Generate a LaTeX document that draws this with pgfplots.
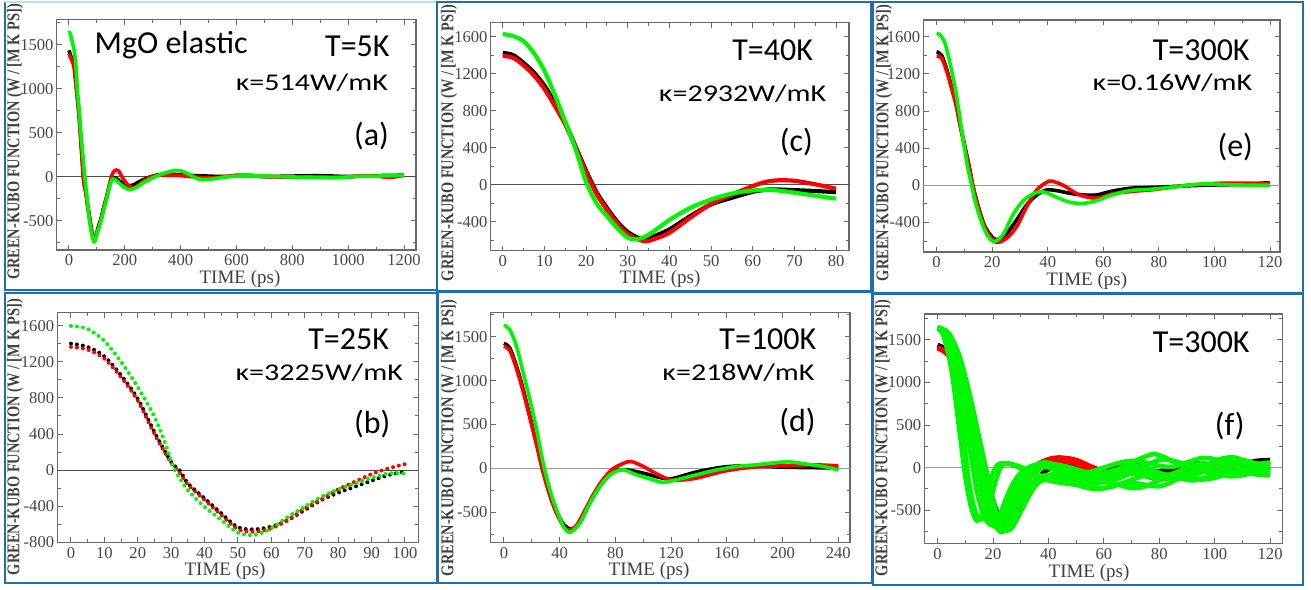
\documentclass[border=0pt]{standalone}
\usepackage{pgfplots}
\pgfplotsset{compat=1.18}
\usepackage{fontspec}
\setmainfont{Liberation Serif}
\newfontfamily\calib{Carlito}
\definecolor{gkgreen}{RGB}{0,245,0}
\definecolor{gkred}{RGB}{255,0,0}
\definecolor{framebl}{RGB}{32,110,178}
\definecolor{framelt}{RGB}{190,225,242}
\definecolor{axgray}{RGB}{105,105,105}
\pgfplotsset{
  gk/.style={
    scale only axis, anchor=south west,
    axis line style={axgray, line width=0.6pt},
    every tick/.style={axgray, line width=0.5pt},
    major tick length=2.6pt, minor tick length=1.6pt,
    tick align=inside,
    minor x tick num=1, minor y tick num=1,
    /pgf/number format/1000 sep={},
    /pgf/number format/assume math mode=true,
    tick label style={font=\fontsize{8.3}{9}\selectfont, text=black!72},
    yticklabel style={inner xsep=1.4pt},
    xticklabel style={inner ysep=2.2pt},
  },
  bk/.style={black, line width=1.8pt, smooth, tension=0.5, line join=round},
  rd/.style={gkred, line width=1.8pt, smooth, tension=0.5, line join=round},
  gn/.style={gkgreen, line width=1.8pt, smooth, tension=0.5, line join=round},
  dots/.style={line width=2pt, line cap=round, dash pattern=on 0pt off 3pt},
}
\newcommand{\ylab}{\scalebox{1}[1.25]{\bfseries\fontsize{7.2}{8}\selectfont GREEN-KUBO FUNCTION (W / [M K PS])}}
\newcommand{\xlab}{\fontsize{9.5}{11}\selectfont TIME (ps)}
\begin{document}
\begin{tikzpicture}
\path[use as bounding box] (0,0) rectangle (655.5pt,-294.5pt);

% ---------------- (a) T=5K ----------------
\begin{axis}[gk, at={(28.35pt,-125pt)}, width=179.65pt, height=115.35pt,
  xmin=-44, xmax=1243, ymin=-830, ymax=1792,
  xtick distance=200, ytick distance=500]
\draw[black!70, line width=0.5pt] (axis cs:-44,0) -- (axis cs:1243,0);
\addplot[bk] coordinates {(0,1440) (8,1360) (18,1280) (26,1040) (36,710) (42,450) (48,170) (53,-40) (60,-160) (66,-300) (72,-420) (77,-520) (83,-640) (90,-700) (96,-680) (104,-580) (116,-460) (124,-350) (134,-240) (142,-140) (150,-50) (158,-10) (166,-10) (175,-30) (190,-70) (210,-100) (230,-90) (260,-40) (290,0) (320,25) (360,30) (400,25) (450,15) (500,10) (550,5) (600,10) (650,10) (700,5) (800,10) (900,15) (1000,5) (1100,15) (1200,20)};
\addplot[rd] coordinates {(0,1400) (8,1340) (18,1250) (26,1010) (36,690) (42,430) (48,150) (53,-60) (60,-180) (66,-320) (72,-440) (77,-540) (83,-650) (88,-700) (94,-690) (104,-600) (116,-470) (124,-360) (134,-240) (142,-120) (150,-20) (158,50) (168,80) (178,70) (190,0) (205,-70) (220,-110) (235,-120) (250,-90) (275,-30) (300,10) (350,20) (400,15) (450,0) (500,-10) (550,0) (600,20) (650,20) (700,5) (750,0) (800,-5) (850,0) (900,5) (950,0) (1000,0) (1050,15) (1100,10) (1150,-5) (1200,20)};
\addplot[gn] coordinates {(0,1640) (3,1640) (11,1550) (18,1450) (23,1330) (27,1170) (30,980) (36,780) (41,570) (47,350) (53,130) (58,-40) (64,-220) (70,-400) (76,-550) (82,-660) (90,-740) (96,-700) (104,-610) (116,-490) (124,-380) (134,-265) (142,-150) (150,-60) (158,-20) (166,-30) (180,-70) (200,-120) (218,-145) (240,-120) (270,-60) (300,-10) (330,30) (360,60) (380,75) (400,70) (430,30) (460,-20) (480,-30) (520,-20) (560,0) (600,10) (700,10) (800,0) (900,-5) (950,-10) (1000,0) (1050,10) (1100,10) (1200,20)};
\end{axis}

% ---------------- (c) T=40K ----------------
\begin{axis}[gk, at={(245.35pt,-125.35pt)}, width=179.15pt, height=114pt,
  xmin=-2.9, xmax=83.1, ymin=-712, ymax=1750,
  xtick distance=10, ytick distance=400]
\draw[black!70, line width=0.5pt] (axis cs:-2.9,0) -- (axis cs:83.1,0);
\addplot[bk, line width=2.1pt] coordinates {(0,1423) (2.5,1400) (5,1315) (7.5,1210) (10,1070) (12.5,880) (15,668) (17.5,410) (20,150) (22.5,-80) (25,-250) (27.5,-400) (30,-510) (33,-580) (36,-560) (40,-482) (45,-338) (50,-212) (55,-140) (60,-76) (63,-55) (65,-50) (70,-58) (75,-68) (80,-79)};
\addplot[rd, line width=2.1pt] coordinates {(0,1394) (2.5,1370) (5,1290) (7.5,1180) (10,1035) (12.5,850) (15,650) (17.5,400) (20,130) (22.5,-100) (25,-270) (27.5,-420) (30,-535) (34,-610) (37,-575) (40,-518) (45,-356) (50,-205) (55,-105) (60,-14) (63,30) (66,48) (70,43) (75,5) (80,-43)};
\addplot[gn, line width=2.1pt] coordinates {(0,1628) (2.5,1605) (5,1550) (7.5,1420) (10,1230) (12.5,970) (15,680) (17.5,380) (20,30) (22.5,-200) (25,-338) (27.5,-470) (30,-571) (32,-590) (35,-540) (40,-380) (45,-250) (50,-160) (55,-95) (60,-62) (65,-58) (70,-85) (75,-118) (80,-150)};
\end{axis}

% ---------------- (e) T=300K ----------------
\begin{axis}[gk, at={(461.65pt,-126pt)}, width=178.35pt, height=116pt,
  xmin=-4.8, xmax=123.6, ymin=-718, ymax=1780,
  xtick distance=20, ytick distance=400]
\draw[black!40, line width=0.6pt] (axis cs:-4.8,0) -- (axis cs:123.6,0);
\addplot[bk] coordinates {(0,1438) (1.8,1400) (3.6,1250) (5.4,1060) (7,880) (8.4,665) (10.2,413) (12,162) (13,0) (15,-230) (17.4,-445) (20.4,-570) (22.2,-580) (25.2,-517) (28.8,-373) (32.4,-212) (36,-105) (39.6,-50) (43.2,-57) (48,-86) (52.8,-104) (57.6,-104) (62.4,-68) (69.6,-32) (80,-20) (95,0) (110,10) (118,25) (120,22)};
\addplot[rd] coordinates {(0,1392) (1.8,1370) (3.6,1230) (5.4,1040) (7,860) (8.4,650) (10.2,400) (12,150) (13,0) (15,-240) (17.4,-460) (20.4,-590) (22.2,-615) (25.2,-570) (28.8,-445) (32.4,-230) (36,-50) (39.6,32) (41.4,46) (45.6,0) (50.4,-90) (55.2,-133) (58.8,-133) (63.6,-90) (72,-61) (78,-47) (90,0) (102,22) (114,22) (120,15)};
\addplot[gn] coordinates {(0,1636) (1,1625) (2,1590) (3,1530) (4,1420) (5,1290) (6,1150) (7,990) (8,800) (9,600) (10,410) (11,220) (12.6,0) (13.8,-165) (15.6,-345) (17.4,-488) (19.2,-578) (21,-603) (24,-525) (27.6,-310) (31.2,-165) (34.8,-93) (38.4,-70) (43.2,-129) (48,-183) (52.8,-194) (57.6,-165) (62.4,-111) (69.6,-57) (78,-40) (84,-22) (96,14) (108,4) (120,0)};
\end{axis}

% ---------------- (b) T=25K ----------------
\begin{axis}[gk, at={(28.65pt,-271.15pt)}, width=180.5pt, height=114.8pt,
  xmin=-4.1, xmax=104, ymin=-800, ymax=1744,
  xtick distance=10, ytick distance=400]
\draw[black!70, line width=0.5pt] (axis cs:-4.1,0) -- (axis cs:104,0);
\addplot[bk, dots] coordinates {(0,1402) (5,1365) (10,1260) (15,1050) (20,790) (25,420) (30,90) (32.5,0) (35,-147) (40,-313) (45,-479) (50,-634) (55,-656) (60,-627) (65,-553) (70,-442) (75,-332) (80,-251) (85,-184) (90,-118) (95,-55) (100,-18)};
\addplot[rd, dots] coordinates {(0,1365) (5,1335) (10,1235) (15,1030) (20,770) (25,400) (30,80) (32,0) (35,-160) (40,-330) (45,-498) (50,-656) (55,-682) (60,-645) (65,-553) (70,-424) (75,-325) (80,-214) (85,-129) (90,-44) (95,18) (100,66)};
\addplot[gn, dots] coordinates {(0,1597) (5,1565) (10,1430) (15,1200) (20,920) (25,590) (28.6,258) (30.6,37) (35,-221) (40,-406) (45,-553) (50,-693) (55,-719) (60,-645) (65,-516) (70,-406) (75,-295) (80,-214) (85,-147) (90,-85) (95,-37) (100,-37)};
\end{axis}

% ---------------- (d) T=100K ----------------
\begin{axis}[gk, at={(245.35pt,-271.15pt)}, width=179.65pt, height=114.8pt,
  xmin=-9.5, xmax=248.4, ymin=-840, ymax=1773,
  xtick distance=40, ytick distance=500]
\draw[black!40, line width=0.6pt] (axis cs:-9.5,0) -- (axis cs:248.4,0);
\addplot[bk] coordinates {(0,1425) (4.3,1368) (9.1,1159) (13.9,894) (18.7,591) (23.5,289) (27.5,0) (33,-300) (38,-500) (43,-640) (48.6,-690) (55,-600) (62,-380) (69,-200) (76,-70) (81,-20) (88,-15) (100,-53) (114,-110) (121,-115) (138,-40) (157,15) (172,30) (186,25) (200,15) (220,10) (240,5)};
\addplot[rd] coordinates {(0,1394) (4.3,1340) (9.1,1130) (13.9,870) (18.7,570) (23.5,260) (27.5,0) (33,-310) (38,-520) (43,-660) (46.7,-700) (52,-650) (58,-480) (64,-300) (70,-150) (76,-34) (81,23) (90.5,80) (100,23) (109.6,-61) (119,-128) (124,-136) (138,-110) (157,-34) (172,4) (186,23) (200,30) (222,42) (240,30)};
\addplot[gn] coordinates {(0,1633) (4.3,1576) (9.1,1386) (13.9,1084) (18.7,780) (23.5,440) (28.2,61) (33,-242) (37.8,-469) (42.6,-659) (47.4,-727) (54.6,-620) (61.7,-394) (68.9,-204) (76.1,-72) (83.3,-15) (86,-12) (95.3,-72) (107,-128) (114,-159) (124,-128) (138,-72) (153,-15) (167,23) (181,42) (196,68) (205,75) (215,55) (229,23) (240,-15)};
\end{axis}

% ---------------- (f) T=300K, several runs ----------------
\begin{axis}[gk, at={(462.15pt,-271.65pt)}, width=179pt, height=114.65pt,
  xmin=-4.8, xmax=124.4, ymin=-889, ymax=1804,
  xtick distance=20, ytick distance=500]
\draw[black!40, line width=0.6pt] (axis cs:-4.8,0) -- (axis cs:124.4,0);
\addplot[bk, line width=2.2pt] coordinates {(0,1440) (4,1360) (8,1060) (12,560) (15,120) (17,-200) (19,-480) (21,-620) (23,-680) (25,-620) (28,-430) (31,-240) (34,-90) (38,20) (42,60) (46,40) (50,10) (55,-20) (60,-20) (65,40) (68,70) (72,30) (76,-20) (80,-40) (85,0) (90,40) (95,50) (100,30) (105,20) (110,40) (115,80) (120,90)};
\addplot[bk, line width=2.2pt] coordinates {(0,1430) (4,1340) (8,1100) (12,700) (15,320) (18,-100) (20,-380) (22,-560) (24,-700) (26,-720) (28,-620) (30,-480) (33,-280) (36,-120) (40,-20) (44,20) (48,0) (52,-40) (56,-50) (60,-20) (65,20) (70,-10) (75,-40) (80,-60) (85,-30) (90,0) (100,10) (110,30) (120,70)};
\addplot[rd, line width=2.2pt] coordinates {(0,1410) (4,1330) (8,1020) (12,500) (15,50) (18,-380) (20,-550) (22,-560) (25,-420) (28,-250) (32,-80) (36,40) (40,100) (44,120) (48,100) (52,40) (56,-30) (60,-60) (65,-60) (70,-50) (75,-100) (80,-140) (85,-110) (90,-60) (95,-40) (100,-60) (105,-40) (110,0) (115,30) (120,40)};
\addplot[rd, line width=2.2pt] coordinates {(0,1400) (4,1310) (8,980) (12,420) (15,-50) (18,-450) (21,-640) (23,-650) (26,-520) (29,-320) (32,-130) (36,20) (40,70) (44,80) (48,60) (52,10) (56,-60) (60,-80) (65,-50) (70,-40) (75,-90) (80,-110) (85,-60) (90,-20) (95,-10) (100,-30) (105,-10) (110,20) (115,30) (120,20)};
\addplot[rd, line width=2.2pt] coordinates {(0,1405) (4,1320) (8,1060) (12,620) (16,80) (19,-330) (21,-520) (23,-600) (25,-560) (28,-400) (31,-220) (35,-60) (39,40) (43,90) (47,110) (51,80) (55,20) (60,-40) (65,-80) (70,-70) (75,-60) (80,-90) (85,-100) (90,-70) (95,-40) (100,-20) (110,-10) (120,10)};
\addplot[gn, line width=2.3pt] coordinates {(0,1640) (3,1560) (6,1200) (9,500) (11,-100) (13,-450) (15,-600) (17,-580) (19,-400) (21,-150) (23,20) (25,50) (28,30) (32,-20) (36,-80) (40,-120) (45,-150) (50,-200) (55,-210) (60,-150) (65,-80) (70,-60) (75,-100) (80,-130) (85,-110) (90,-60) (95,-30) (100,-60) (105,-100) (110,-90) (115,-50) (120,-40)};
\addplot[gn, line width=2.3pt] coordinates {(0,1650) (3,1580) (6,1300) (9,750) (12,150) (14,-250) (16,-500) (18,-640) (20,-680) (22,-600) (24,-420) (27,-200) (30,-60) (34,20) (38,40) (42,20) (46,-30) (50,-90) (55,-150) (60,-170) (65,-130) (70,-60) (75,20) (80,90) (85,80) (90,30) (95,-10) (100,20) (105,80) (110,90) (115,50) (120,20)};
\addplot[gn, line width=2.3pt] coordinates {(0,1640) (4,1540) (8,1150) (12,500) (15,0) (18,-400) (21,-680) (23,-760) (25,-700) (28,-500) (31,-300) (34,-180) (38,-100) (42,-80) (46,-100) (50,-150) (55,-230) (60,-240) (65,-200) (70,-180) (75,-200) (80,-220) (85,-160) (90,-80) (95,-40) (100,-50) (105,-80) (110,-60) (115,-20) (120,-30)};
\addplot[gn, line width=2.3pt] coordinates {(0,1630) (4,1560) (8,1220) (12,620) (15,150) (18,-300) (20,-560) (22,-720) (24,-740) (26,-620) (29,-380) (32,-180) (35,-60) (38,0) (42,30) (46,0) (50,-60) (55,-100) (60,-80) (65,-20) (70,60) (75,130) (78,160) (82,120) (87,40) (92,0) (97,30) (102,100) (107,120) (112,60) (117,-10) (120,-20)};
\addplot[gn, line width=2.3pt] coordinates {(0,1620) (2,1560) (5,1150) (8,400) (10,-100) (12,-450) (14,-620) (16,-560) (18,-300) (20,-60) (22,40) (25,50) (28,20) (32,-40) (36,-100) (40,-150) (45,-180) (50,-200) (55,-190) (60,-170) (65,-200) (70,-240) (75,-220) (80,-150) (85,-100) (90,-110) (95,-140) (100,-120) (105,-70) (110,-50) (115,-80) (120,-90)};
\addplot[gn, line width=2.3pt] coordinates {(0,1640) (4,1550) (8,1180) (12,560) (15,60) (18,-380) (20,-600) (22,-700) (24,-640) (27,-420) (30,-220) (33,-80) (36,0) (40,40) (44,30) (48,0) (52,-40) (56,-70) (60,-60) (65,-20) (70,20) (75,0) (80,-60) (85,-110) (90,-90) (95,-20) (100,40) (105,30) (110,-20) (115,-40) (120,0)};
\addplot[gn, line width=2.3pt] coordinates {(0,1645) (4,1570) (8,1250) (12,680) (16,50) (19,-420) (21,-620) (23,-730) (25,-720) (27,-600) (30,-400) (33,-250) (37,-150) (42,-130) (47,-160) (52,-220) (57,-250) (62,-230) (67,-180) (72,-120) (77,-80) (82,-80) (87,-120) (92,-150) (97,-110) (102,-40) (107,10) (112,0) (117,-40) (120,-50)};
\addplot[gn, line width=2.3pt] coordinates {(0,1640) (4,1550) (7,1250) (10,760) (13,240) (16,-300) (19,-620) (21,-700) (23,-620) (25,-450) (28,-260) (31,-100) (34,0) (38,60) (42,40) (46,-20) (50,-60) (55,-50) (60,0) (65,50) (70,80) (75,60) (80,20) (85,10) (90,60) (95,110) (100,100) (105,40) (110,0) (115,40) (120,60)};
\addplot[gn, line width=2.3pt] coordinates {(0,1635) (3,1590) (6,1380) (9,960) (12,420) (15,-120) (17,-420) (19,-600) (21,-650) (23,-560) (26,-340) (29,-150) (32,-30) (36,20) (40,0) (45,-60) (50,-120) (55,-140) (60,-100) (65,-40) (70,0) (75,-30) (80,-90) (85,-130) (90,-120) (95,-60) (100,10) (105,60) (110,50) (115,0) (120,-30)};
\addplot[gn, line width=2.3pt] coordinates {(0,1645) (4,1580) (8,1300) (12,800) (16,200) (19,-250) (21,-500) (23,-680) (25,-740) (27,-700) (30,-520) (33,-330) (36,-190) (40,-120) (45,-140) (50,-190) (55,-200) (60,-150) (65,-90) (70,-50) (75,-60) (80,-100) (85,-70) (90,0) (95,50) (100,20) (105,-40) (110,-70) (115,-30) (120,10)};
\end{axis}

% ---------------- frames, axis titles and notes ----------------
\begin{scope}[x=0.5pt, y=-0.5pt]
\draw[framebl, line width=1pt] (5,1.5) -- (5,290) -- (436.7,290) -- (436.7,1.5);
\draw[framelt, line width=1pt] (5,1.5) -- (436.7,1.5);
\draw[framebl, line width=1pt] (437.3,2) rectangle (870.7,291.2);
\draw[framebl, line width=1pt] (873.3,1.5) rectangle (1303.3,292.7);
\draw[framebl, line width=1pt] (5,293) rectangle (436.7,583.3);
\draw[framebl, line width=1pt] (438.3,292) rectangle (871.7,583.3);
\draw[framebl, line width=1pt] (873.3,294) rectangle (1303.3,585);

\foreach \cx/\cy in {15/142, 449/143, 884/143, 15/437, 449/438, 883/438}
  \node[rotate=90, text=black!75, inner sep=0pt] at (\cx,\cy) {\ylab};
\foreach \cx/\cy in {240/283.3, 660/283, 1086.7/285.7, 225/575.7, 649/575, 1089/577.3}
  \node[anchor=base, text=black!75, inner sep=0pt] at (\cx,\cy) {\xlab};

\newcommand{\Tfont}{\calib\fontsize{16}{19}\selectfont}
\newcommand{\Kfont}{\calib\fontsize{12}{14}\selectfont}
\newcommand{\Pfont}{\calib\fontsize{16}{19}\selectfont}
% (a)
\node[anchor=base west, inner sep=0pt] at (94.3,53.3) {\Tfont MgO elastic};
\node[anchor=base east, inner sep=0pt] at (390,56.7) {\Tfont T=5K};
\node[anchor=base east, inner sep=0pt, xscale=1.25] at (388.3,90) {\Kfont κ=514W/mK};
\node[anchor=base east, inner sep=0pt] at (389.3,145) {\Pfont (a)};
% (c)
\node[anchor=base east, inner sep=0pt] at (813.3,60.7) {\Tfont T=40K};
\node[anchor=base east, inner sep=0pt, xscale=1.25] at (826.7,101.7) {\Kfont κ=2932W/mK};
\node[anchor=base east, inner sep=0pt] at (813.3,151.7) {\Pfont (c)};
% (e)
\node[anchor=base east, inner sep=0pt] at (1250,60) {\Tfont T=300K};
\node[anchor=base east, inner sep=0pt, xscale=1.25] at (1252.7,90) {\Kfont κ=0.16W/mK};
\node[anchor=base east, inner sep=0pt] at (1253.3,156.7) {\Pfont (e)};
% (b)
\node[anchor=base east, inner sep=0pt] at (389.3,349.3) {\Tfont T=25K};
\node[anchor=base east, inner sep=0pt, xscale=1.25] at (403.3,380.7) {\Kfont κ=3225W/mK};
\node[anchor=base east, inner sep=0pt] at (390.7,433.3) {\Pfont (b)};
% (d)
\node[anchor=base east, inner sep=0pt] at (816.7,349.3) {\Tfont T=100K};
\node[anchor=base east, inner sep=0pt, xscale=1.25] at (815,380) {\Kfont κ=218W/mK};
\node[anchor=base east, inner sep=0pt] at (816,431.7) {\Pfont (d)};
% (f)
\node[anchor=base east, inner sep=0pt] at (1250,352.7) {\Tfont T=300K};
\node[anchor=base east, inner sep=0pt] at (1245,435) {\Pfont (f)};
\end{scope}
\end{tikzpicture}
\end{document}
